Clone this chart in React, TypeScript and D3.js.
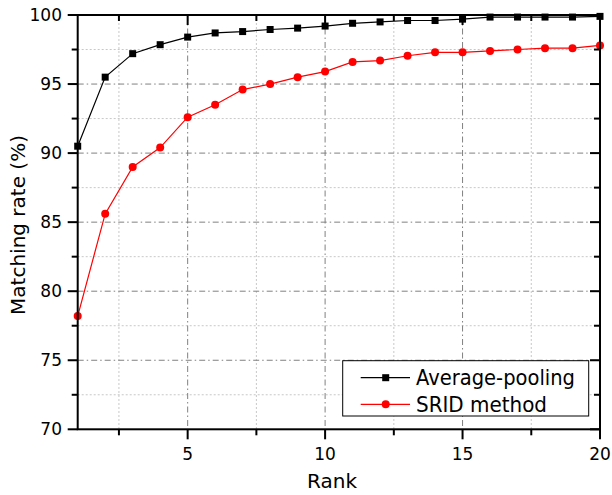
import React from "react";
import * as d3 from "d3";

const ranks = [1,2,3,4,5,6,7,8,9,10,11,12,13,14,15,16,17,18,19,20];
const averagePooling = [90.5,95.5,97.2,97.85,98.4,98.7,98.8,98.95,99.05,99.2,99.4,99.5,99.6,99.6,99.7,99.85,99.85,99.85,99.85,99.9];
const sridMethod = [78.2,85.6,89.0,90.4,92.6,93.5,94.6,95.0,95.5,95.9,96.6,96.7,97.05,97.3,97.3,97.4,97.5,97.6,97.6,97.8];
const xMajorTicks = [5,10,15,20];
const xMinorTicks = [2.5,7.5,12.5,17.5];
const yMajorTicks = [70,75,80,85,90,95,100];
const yMinorTicks = [72.5,77.5,82.5,87.5,92.5,97.5];
const seriesNames = ["Average-pooling","SRID method"];

export default function App() {
  const W = 612, H = 495;
  const L = 77.7, R = 600, T = 15, B = 429.3;
  const x = d3.scaleLinear().domain([1,20]).range([L,R]);
  const y = d3.scaleLinear().domain([70,100]).range([B,T]);
  const line = d3.line<number>().x((_, i) => x(ranks[i])).y(d => y(d));
  const font = "DejaVu Sans, sans-serif";

  return (
    <svg width={W} height={H} style={{position:"absolute",left:0,top:0}} fontFamily={font}>
      <rect width={W} height={H} fill="#fff" />
      {/* grid */}
      {xMinorTicks.map(t => <line key={"xm"+t} x1={x(t)} x2={x(t)} y1={T} y2={B} stroke="#c8c8c8" strokeWidth={1} strokeDasharray="2,2" />)}
      {yMinorTicks.map(t => <line key={"ym"+t} x1={L} x2={R} y1={y(t)} y2={y(t)} stroke="#c8c8c8" strokeWidth={1} strokeDasharray="2,2" />)}
      {xMajorTicks.filter(t => t < 20).map(t => <line key={"xM"+t} x1={x(t)} x2={x(t)} y1={T} y2={B} stroke="#808080" strokeWidth={1} strokeDasharray="6,3,1.5,3" />)}
      {yMajorTicks.filter(t => t > 70 && t < 100).map(t => <line key={"yM"+t} x1={L} x2={R} y1={y(t)} y2={y(t)} stroke="#808080" strokeWidth={1} strokeDasharray="6,3,1.5,3" />)}

      {/* series */}
      <path d={line(averagePooling) || ""} fill="none" stroke="#000" strokeWidth={1.2} />
      {averagePooling.map((v,i) => <rect key={"a"+i} x={x(ranks[i])-3.5} y={y(v)-3.5} width={7} height={7} fill="#000" />)}
      <path d={line(sridMethod) || ""} fill="none" stroke="#ff0000" strokeWidth={1.2} />
      {sridMethod.map((v,i) => <circle key={"s"+i} cx={x(ranks[i])} cy={y(v)} r={4} fill="#ff0000" />)}

      {/* frame */}
      <rect x={L} y={T} width={R-L} height={B-T} fill="none" stroke="#000" strokeWidth={2} />
      {xMajorTicks.map(t => <g key={"xt"+t}>
        <line x1={x(t)} x2={x(t)} y1={B} y2={B+10} stroke="#000" strokeWidth={2} />
        <line x1={x(t)} x2={x(t)} y1={T} y2={T+10} stroke="#000" strokeWidth={2} />
        <text x={x(t)} y={460} textAnchor="middle" fontSize={17} fill="#000">{t}</text>
      </g>)}
      {xMinorTicks.map(t => <g key={"xmt"+t}>
        <line x1={x(t)} x2={x(t)} y1={B} y2={B+6} stroke="#000" strokeWidth={2} />
        <line x1={x(t)} x2={x(t)} y1={T} y2={T+6} stroke="#000" strokeWidth={2} />
      </g>)}
      {yMajorTicks.map(t => <g key={"yt"+t}>
        <line x1={L-10} x2={L} y1={y(t)} y2={y(t)} stroke="#000" strokeWidth={2} />
        <line x1={R-10} x2={R} y1={y(t)} y2={y(t)} stroke="#000" strokeWidth={2} />
        <text x={62} y={y(t)+6} textAnchor="end" fontSize={17} fill="#000">{t}</text>
      </g>)}
      {yMinorTicks.map(t => <g key={"ymt"+t}>
        <line x1={L-6} x2={L} y1={y(t)} y2={y(t)} stroke="#000" strokeWidth={2} />
        <line x1={R-6} x2={R} y1={y(t)} y2={y(t)} stroke="#000" strokeWidth={2} />
      </g>)}

      {/* axis titles */}
      <text x={332} y={488} textAnchor="middle" fontSize={20} fill="#000">Rank</text>
      <text transform="translate(25,225) rotate(-90)" textAnchor="middle" fontSize={20} fill="#000">Matching rate (%)</text>

      {/* legend */}
      <rect x={342.7} y={360.7} width={246} height={55.3} fill="#fff" stroke="#000" strokeWidth={1} />
      <line x1={360.7} x2={410} y1={377.7} y2={377.7} stroke="#000" strokeWidth={1.2} />
      <rect x={385.7-3.5} y={377.7-3.5} width={7} height={7} fill="#000" />
      <text x={416} y={385.3} fontSize={21} textLength={159} lengthAdjust="spacingAndGlyphs" fill="#000">{seriesNames[0]}</text>
      <line x1={360.7} x2={410} y1={404.3} y2={404.3} stroke="#ff0000" strokeWidth={1.2} />
      <circle cx={385.7} cy={404.3} r={4} fill="#ff0000" />
      <text x={416} y={411.8} fontSize={21} textLength={131} lengthAdjust="spacingAndGlyphs" fill="#000">{seriesNames[1]}</text>
    </svg>
  );
}
